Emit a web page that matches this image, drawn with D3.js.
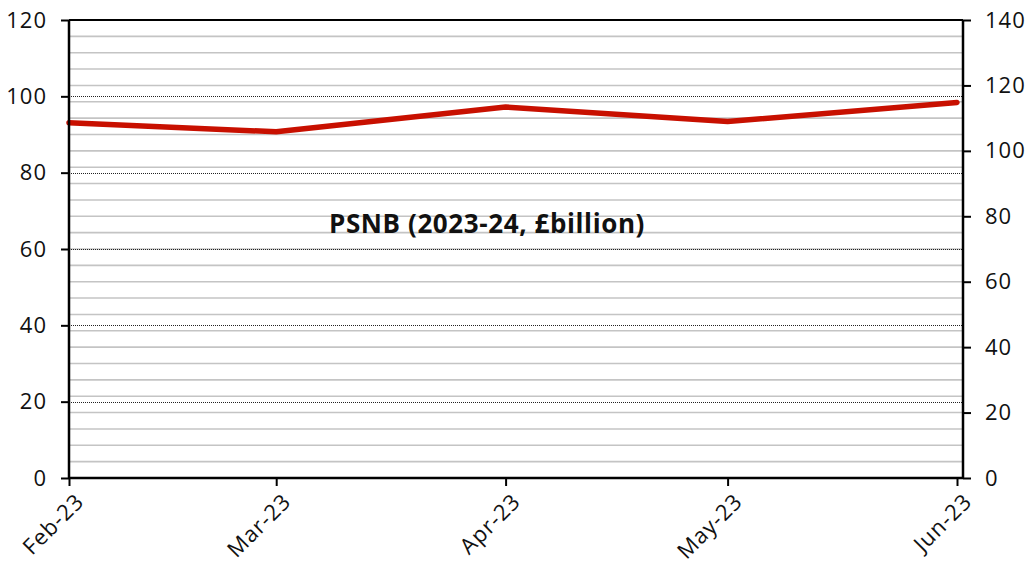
<!DOCTYPE html>
<html><head><meta charset="utf-8">
<script src="https://cdn.jsdelivr.net/npm/d3@7"></script>
<style>body{margin:0;background:#fff}svg text{font-family:"Open Sans","Noto Sans",sans-serif;fill:#111}</style>
</head><body><svg id="c" width="1032" height="567"></svg>
<script>
const months = ["2023-02-01","2023-03-01","2023-04-01","2023-05-01","2023-06-01"];
const monthLabels = ["Feb-23","Mar-23","Apr-23","May-23","Jun-23"];
const psnb = [93.1, 90.7, 97.2, 93.4, 98.4];
const leftTicks = [0,20,40,60,80,100,120];
const rightTicks = [0,20,40,60,80,100,120,140];
const title = "PSNB (2023-24, £billion)";

const svg = d3.select("#c");
const L = 69, R = 963, T = 20, B = 478;
const parse = d3.timeParse("%Y-%m-%d");
const dates = months.map(parse);
const x = d3.scaleTime().domain([dates[0], dates[4]]).range([L, 957]);
const yL = d3.scaleLinear().domain([0,120]).range([B,T]);
const yR = d3.scaleLinear().domain([0,140]).range([B,T]);

const minor = d3.range(5,140,5);
svg.append("g").selectAll("line").data(minor).join("line")
  .attr("x1",L).attr("x2",R).attr("y1",d=>yR(d)).attr("y2",d=>yR(d))
  .attr("stroke","#c4c4c4").attr("stroke-width",1.6);
svg.append("g").selectAll("line").data(leftTicks.slice(1,-1)).join("line")
  .attr("x1",L).attr("x2",R).attr("y1",d=>Math.round(yL(d))+0.5).attr("y2",d=>Math.round(yL(d))+0.5)
  .attr("stroke","#222").attr("stroke-width",1).attr("stroke-dasharray","1,1");

const line = d3.line().x((d,i)=>x(dates[i])).y(d=>yL(d));
svg.append("path").datum(psnb).attr("d",line).attr("fill","none")
  .attr("stroke","#c81000").attr("stroke-width",5.5).attr("stroke-linejoin","round").attr("stroke-linecap","round");

svg.append("line").attr("x1",L).attr("x2",R).attr("y1",T).attr("y2",T).attr("stroke","#000").attr("stroke-width",2);

const gl = svg.append("g").attr("transform",`translate(${L},0)`)
  .call(d3.axisLeft(yL).tickValues(leftTicks).tickSize(8).tickPadding(14));
const gr = svg.append("g").attr("transform",`translate(${R},0)`)
  .call(d3.axisRight(yR).tickValues(rightTicks).tickSize(8).tickPadding(14));
const gb = svg.append("g").attr("transform",`translate(0,${B})`)
  .call(d3.axisBottom(x).tickValues(dates).tickFormat((d,i)=>monthLabels[i]).tickSize(8));
gb.select(".domain").attr("d",`M${L},0H${R}`);
gb.selectAll(".tick text").attr("text-anchor","end").attr("dy",0).attr("dx",0)
  .attr("transform","translate(8,17) rotate(-45)");

[gl,gr,gb].forEach(g=>{
  g.select(".domain").attr("stroke","#000").attr("stroke-width",2.5);
  g.selectAll(".tick line").attr("stroke","#000").attr("stroke-width",2);
  g.selectAll(".tick text").style("font-size","22px").style("letter-spacing","1px")
   .style("font-family","'Open Sans','Noto Sans',sans-serif").attr("fill","#111");
});
gl.selectAll(".tick text").attr("x",-22);
gl.select(".domain").attr("d",`M0,${B}V${T}`);
gr.select(".domain").attr("d",`M0,${B}V${T}`);

svg.append("text").attr("x",487).attr("y",233).attr("text-anchor","middle")
  .style("font-size","26px").style("font-weight","bold").style("letter-spacing","0.6px").text(title);
</script></body></html>
